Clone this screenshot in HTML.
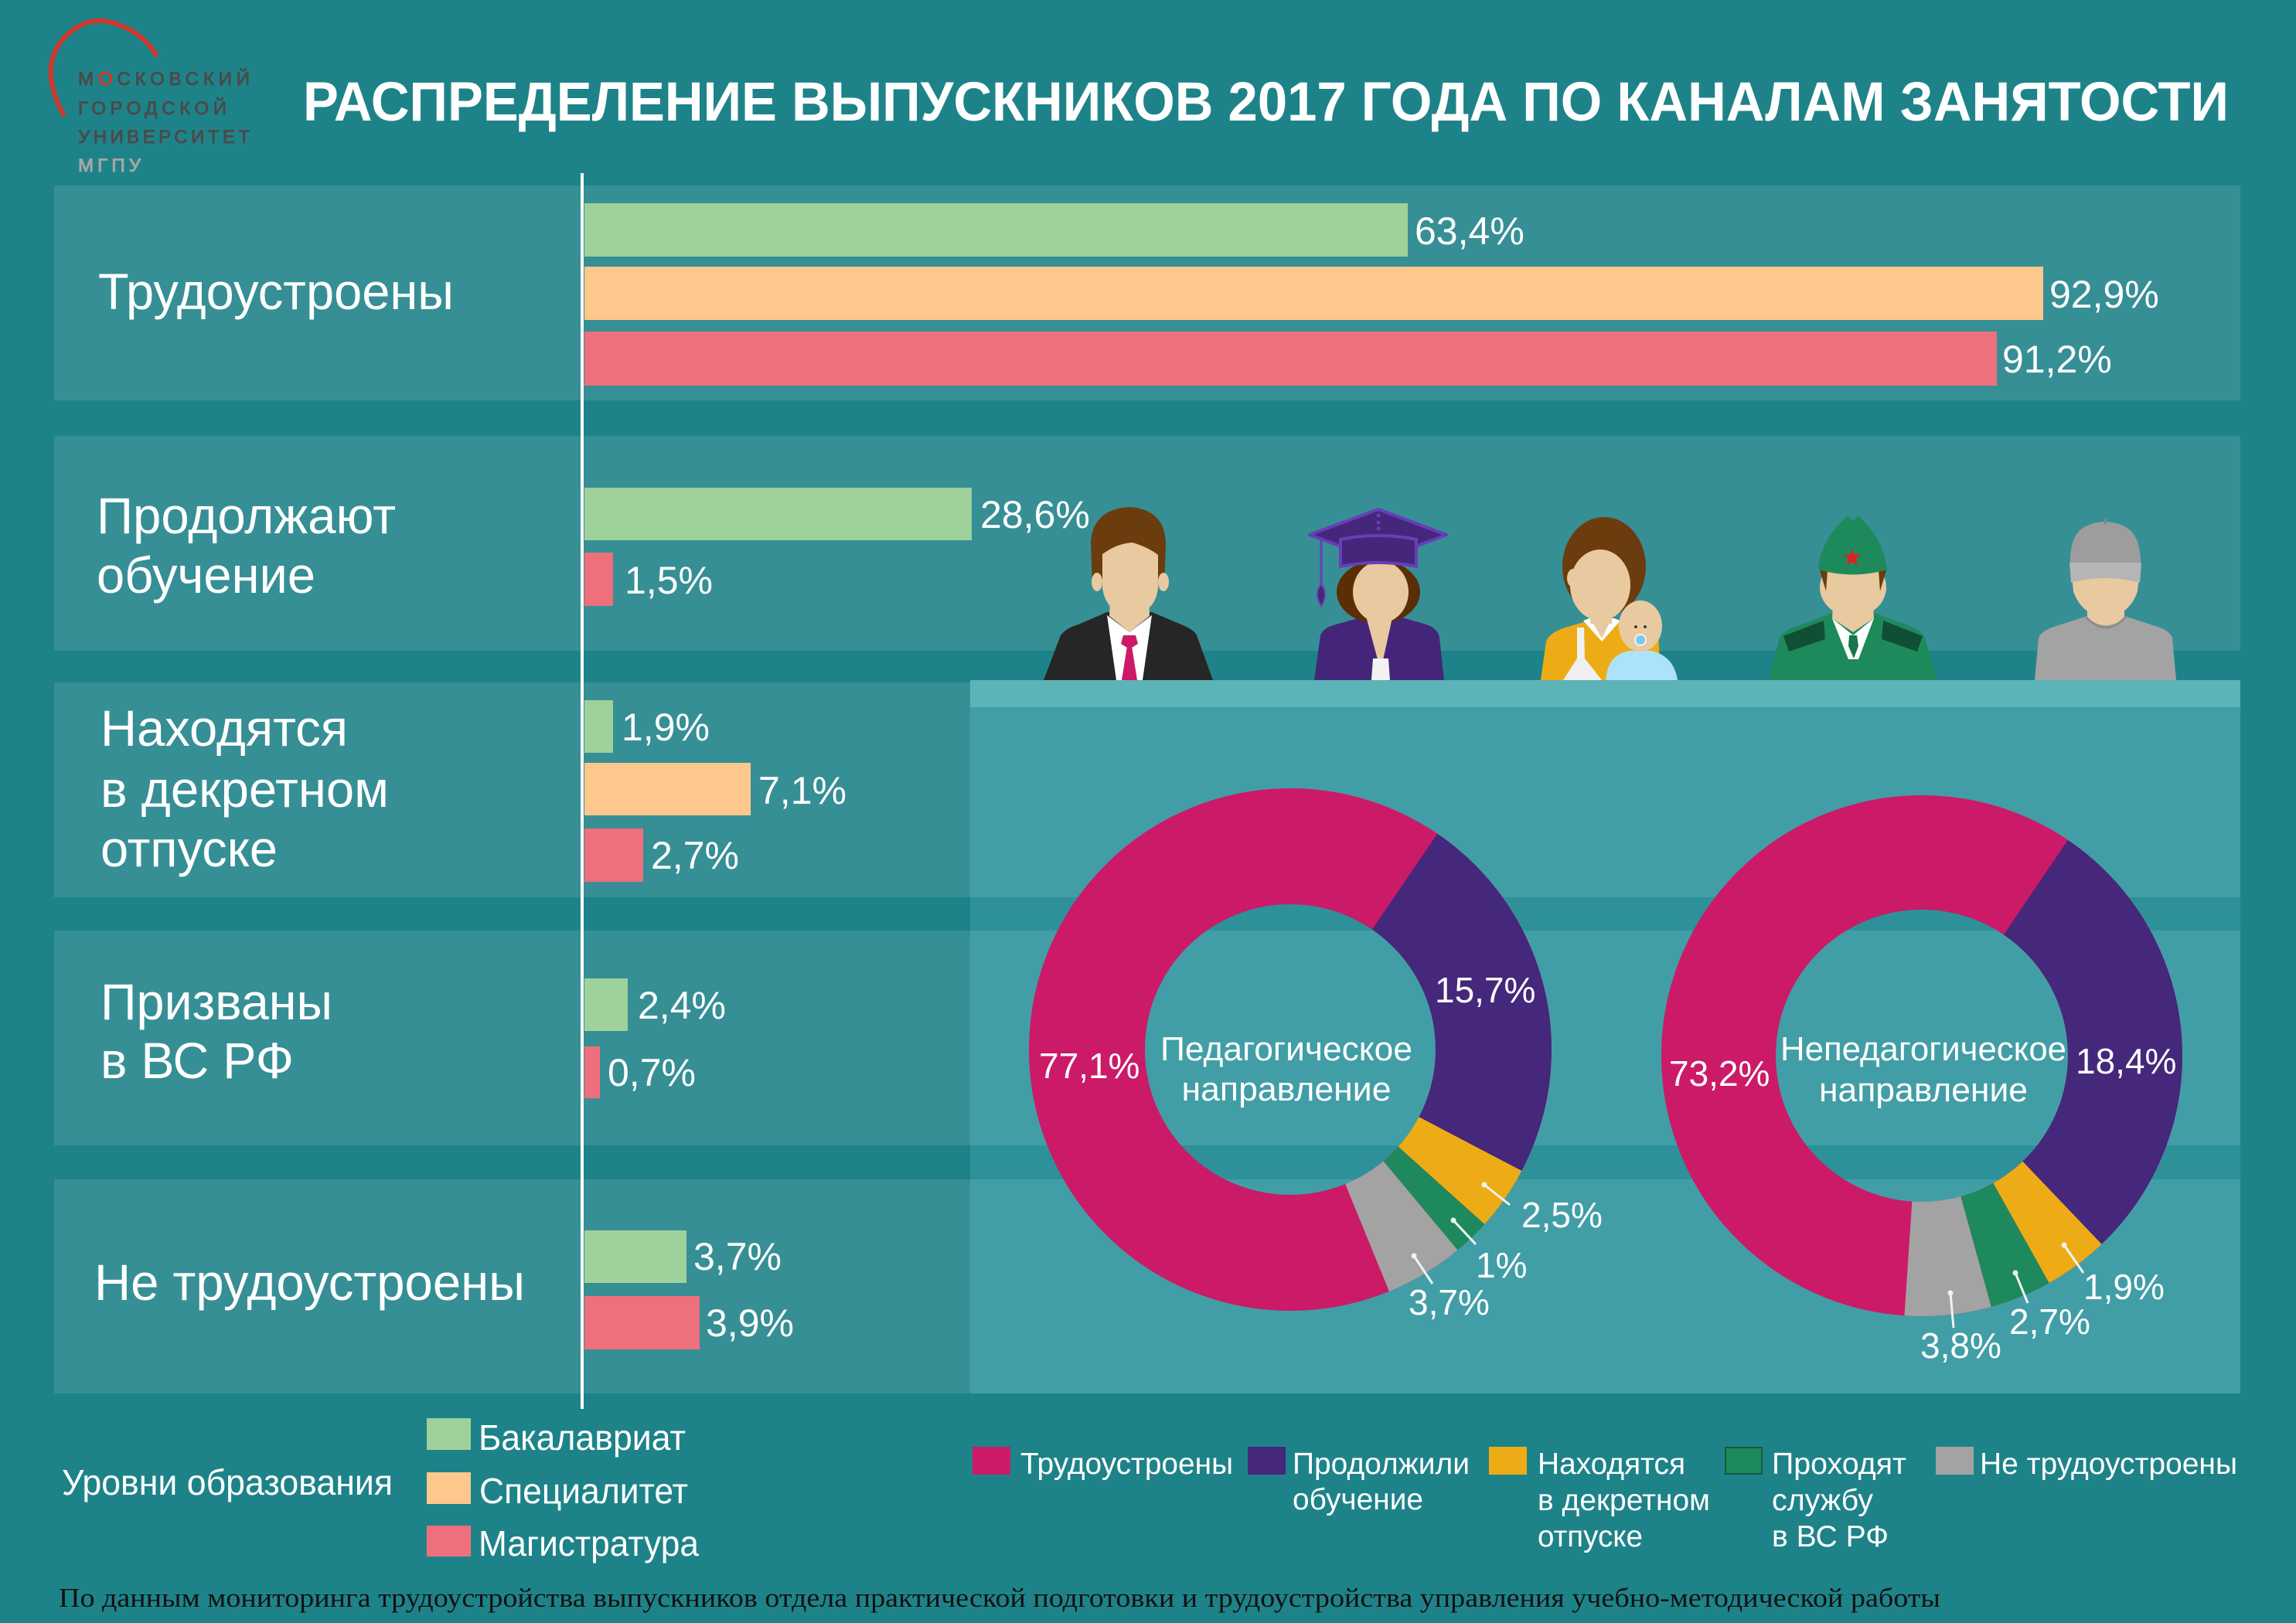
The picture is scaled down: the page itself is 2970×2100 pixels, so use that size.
<!DOCTYPE html>
<html><head><meta charset="utf-8">
<style>html,body{margin:0;padding:0;background:#1e8389}svg{display:block}</style>
</head><body>
<svg width="2970" height="2100" viewBox="0 0 2970 2100" xmlns="http://www.w3.org/2000/svg">
<rect x="0" y="0" width="2970" height="2100" fill="#1e8389"/>

<!-- Logo -->
<path d="M83,150 Q50,90 80,52 Q105,24 135,27 Q182,36 203,73" fill="none" stroke="#d2372d" stroke-width="6"/>
<g font-family="'Liberation Sans', sans-serif" font-size="24" fill="#4b4b4b" stroke="#4b4b4b" stroke-width="1">
<text x="101" y="110" textLength="222" lengthAdjust="spacing">М<tspan fill="#d2372d" stroke="#d2372d">О</tspan>СКОВСКИЙ</text>
<text x="101" y="148" textLength="192" lengthAdjust="spacing">ГОРОДСКОЙ</text>
<text x="101" y="185" textLength="222" lengthAdjust="spacing">УНИВЕРСИТЕТ</text>
<text x="101" y="222" textLength="81" lengthAdjust="spacing" fill="#a6a6a6" stroke="#a6a6a6">МГПУ</text>
</g>

<!-- Title -->
<text x="392" y="156" font-family="'Liberation Sans', sans-serif" font-weight="bold" font-size="71" fill="#ffffff" textLength="2491" lengthAdjust="spacingAndGlyphs">РАСПРЕДЕЛЕНИЕ ВЫПУСКНИКОВ 2017 ГОДА ПО КАНАЛАМ ЗАНЯТОСТИ</text>

<!-- Row panels -->
<g fill="#368f95">
<rect x="70" y="240" width="2828" height="278"/>
<rect x="70" y="564" width="2828" height="278"/>
<rect x="70" y="883" width="2828" height="278"/>
<rect x="70" y="1204" width="2828" height="278"/>
<rect x="70" y="1526" width="2828" height="277"/>
</g>

<!-- Donut panel -->
<rect x="1255" y="880" width="1643" height="923" fill="#429ea6"/>
<rect x="1255" y="1161" width="1643" height="43" fill="#2e9199"/>
<rect x="1255" y="1482" width="1643" height="44" fill="#2e9199"/>

<!-- People -->
<!-- Man -->
<path d="M1350,880 L1372,822 Q1380,812 1395,808 L1432,792 L1490,792 L1528,808 Q1545,815 1548,822 L1569,880 Z" fill="#262626"/>
<path d="M1432,796 L1461,818 L1490,796 L1478,880 L1444,880 Z" fill="#ffffff"/>
<path d="M1437,755 L1485,755 L1487,797 L1461,818 L1435,797 Z" fill="#e9c9a0"/>
<path d="M1453,822 L1469,822 L1472,833 L1464,838 L1458,838 L1450,833 Z" fill="#cc1a68"/>
<path d="M1458,836 L1464,836 L1471,880 L1451,880 Z" fill="#cc1a68"/>
<path d="M1413,757 L1411,700 Q1415,658 1462,656 Q1508,660 1508,705 L1506,757 Z" fill="#6b3c0e"/>
<ellipse cx="1419" cy="753" rx="7" ry="12" fill="#e9c9a0"/>
<ellipse cx="1505" cy="753" rx="7" ry="12" fill="#e9c9a0"/>
<path d="M1426,717 Q1445,703 1465,702 Q1485,708 1498,718 L1498,760 Q1495,792 1462,798 Q1430,792 1426,760 Z" fill="#e9c9a0"/>

<!-- Graduate woman -->
<path d="M1700,880 L1708,822 Q1712,812 1728,808 L1775,795 L1800,795 L1845,808 Q1860,813 1862,825 L1868,880 Z" fill="#45257a"/>
<ellipse cx="1783" cy="766" rx="54" ry="41" fill="#5c2e06"/>
<path d="M1765,790 L1803,790 L1786,868 Z" fill="#e9c9a0"/>
<path d="M1776,852 L1796,852 L1798,880 L1774,880 Z" fill="#f2f2f2"/>
<ellipse cx="1786" cy="766" rx="36" ry="40" fill="#e9c9a0"/>
<polygon points="1694,692 1783,659 1871,692 1783,725" fill="#44277a" stroke="#6a3db8" stroke-width="4" stroke-linejoin="round"/>
<path d="M1734,698 Q1783,688 1832,698 L1832,733 Q1783,723 1734,733 Z" fill="#44277a" stroke="#6a3db8" stroke-width="4"/>
<circle cx="1783" cy="667" r="2.5" fill="#6a3db8"/>
<circle cx="1783" cy="676" r="2.5" fill="#6a3db8"/>
<circle cx="1783" cy="684" r="2.5" fill="#6a3db8"/>
<line x1="1709" y1="695" x2="1709" y2="760" stroke="#6a3db8" stroke-width="3"/>
<path d="M1709,756 Q1719,768 1709,784 Q1699,768 1709,756 Z" fill="#44277a" stroke="#6a3db8" stroke-width="2"/>

<!-- Mother -->
<ellipse cx="2075" cy="733" rx="54" ry="64" fill="#6b3c0e"/>
<path d="M1993,880 L2000,830 Q2005,818 2025,812 L2055,803 L2110,803 L2145,815 L2148,880 Z" fill="#edac16"/>
<path d="M2048,803 L2072,830 L2096,803 L2088,800 L2056,800 Z" fill="#ffffff"/>
<path d="M2040,812 L2049,812 L2050,852 L2072,880 L2022,880 L2040,852 Z" fill="#f0f0f0"/>
<rect x="2057" y="785" width="28" height="22" fill="#e9c9a0"/>
<path d="M2057,800 L2085,800 L2072,826 Z" fill="#e9c9a0"/>
<ellipse cx="2035" cy="748" rx="8" ry="12" fill="#e9c9a0"/>
<ellipse cx="2070" cy="757" rx="39" ry="46" fill="#e9c9a0"/>
<path d="M2077,880 Q2080,845 2110,842 L2135,842 Q2165,848 2170,880 Z" fill="#ade3fa"/>
<ellipse cx="2122" cy="810" rx="28" ry="33" fill="#e9c9a0"/>
<circle cx="2116" cy="811" r="1.8" fill="#222"/>
<circle cx="2128" cy="811" r="1.8" fill="#222"/>
<circle cx="2122" cy="828" r="7" fill="#7cc8ea" stroke="#f4f4f4" stroke-width="2"/>

<!-- Soldier -->
<path d="M2288,880 L2302,825 Q2308,815 2325,810 L2370,793 L2425,793 L2470,810 Q2485,815 2490,825 L2506,880 Z" fill="#1e8a5c"/>
<polygon points="2307,823 2359,803 2361,827 2314,843" fill="#0f4f35"/>
<polygon points="2436,803 2487,823 2480,843 2434,827" fill="#0f4f35"/>
<polygon points="2370,800 2397,822 2424,800 2404,853 2391,853" fill="#ffffff"/>
<polygon points="2392,822 2402,822 2404,836 2398,852 2391,836" fill="#16764a"/>
<path d="M2372,768 L2422,768 L2424,800 L2397,818 L2370,800 Z" fill="#e9c9a0"/>
<ellipse cx="2397" cy="760" rx="43" ry="38" fill="#e9c9a0"/>
<path d="M2354,738 L2364,738 L2362,765 Z" fill="#6b3c0e"/>
<path d="M2440,738 L2430,738 L2432,765 Z" fill="#6b3c0e"/>
<path d="M2352,737 Q2355,700 2385,672 L2390,667 L2397,674 L2404,667 Q2438,700 2441,737 Q2397,750 2352,737 Z" fill="#1e8a5c"/>
<polygon points="2396,710 2398.9,718 2407.4,718.3 2400.8,723.5 2403.1,731.7 2396,727 2388.9,731.7 2391.2,723.5 2384.6,718.3 2393.1,718" fill="#e31e24"/>

<!-- Unemployed -->
<path d="M2632,880 L2637,825 Q2642,815 2660,810 L2700,797 L2748,797 L2788,810 Q2806,815 2810,825 L2815,880 Z" fill="#a3a3a3"/>
<path d="M2700,775 L2748,775 L2748,800 Q2724,818 2700,800 Z" fill="#e9c9a0"/>
<path d="M2698,798 Q2724,826 2750,798" fill="none" stroke="#8c8c8c" stroke-width="3"/>
<path d="M2680,745 L2767,745 L2765,765 Q2755,795 2724,800 Q2692,795 2682,765 Z" fill="#e9c9a0"/>
<path d="M2678,732 Q2676,690 2700,680 Q2723,670 2746,680 Q2770,690 2769,732 Z" fill="#9d9d9d"/>
<path d="M2677,728 L2770,728 L2768,754 Q2723,742 2679,754 Z" fill="#b5b5b5"/>
<rect x="2722" y="671" width="3" height="8" fill="#888"/>

<!-- Strip -->
<rect x="1255" y="880" width="1643" height="35" fill="#5cb3b8"/>

<!-- Axis line -->
<rect x="751" y="224" width="4" height="1599" fill="#ffffff"/>

<!-- Bars -->
<g>
<rect x="756" y="263" width="1065" height="69" fill="#9fd19b"/>
<rect x="756" y="345" width="1887" height="69" fill="#fec78b"/>
<rect x="756" y="429" width="1827" height="70" fill="#ee707c"/>
<rect x="756" y="631" width="501" height="68" fill="#9fd19b"/>
<rect x="756" y="715" width="37" height="69" fill="#ee707c"/>
<rect x="756" y="906" width="37" height="68" fill="#9fd19b"/>
<rect x="756" y="987" width="215" height="68" fill="#fec78b"/>
<rect x="756" y="1072" width="76" height="69" fill="#ee707c"/>
<rect x="756" y="1266" width="56" height="68" fill="#9fd19b"/>
<rect x="756" y="1354" width="20" height="67" fill="#ee707c"/>
<rect x="756" y="1592" width="132" height="68" fill="#9fd19b"/>
<rect x="756" y="1677" width="149" height="69" fill="#ee707c"/>
</g>

<!-- Row labels -->
<g font-family="'Liberation Sans', sans-serif" font-size="66" fill="#ffffff">
<text x="127" y="400" textLength="460" lengthAdjust="spacingAndGlyphs">Трудоустроены</text>
<text x="125" y="690" textLength="387" lengthAdjust="spacingAndGlyphs">Продолжают</text>
<text x="125" y="767" textLength="283" lengthAdjust="spacingAndGlyphs">обучение</text>
<text x="130" y="965" textLength="320" lengthAdjust="spacingAndGlyphs">Находятся</text>
<text x="130" y="1044" textLength="373" lengthAdjust="spacingAndGlyphs">в декретном</text>
<text x="130" y="1121" textLength="229" lengthAdjust="spacingAndGlyphs">отпуске</text>
<text x="130" y="1319" textLength="300" lengthAdjust="spacingAndGlyphs">Призваны</text>
<text x="130" y="1395" textLength="250" lengthAdjust="spacingAndGlyphs">в ВС РФ</text>
<text x="122" y="1682" textLength="557" lengthAdjust="spacingAndGlyphs">Не трудоустроены</text>
</g>

<!-- Bar labels -->
<g font-family="'Liberation Sans', sans-serif" font-size="50" fill="#ffffff">
<text x="1830" y="316">63,4%</text>
<text x="2651" y="398">92,9%</text>
<text x="2590" y="482">91,2%</text>
<text x="1268" y="683">28,6%</text>
<text x="808" y="768">1,5%</text>
<text x="804" y="958">1,9%</text>
<text x="981" y="1040">7,1%</text>
<text x="842" y="1124">2,7%</text>
<text x="825" y="1318">2,4%</text>
<text x="786" y="1405">0,7%</text>
<text x="897" y="1643">3,7%</text>
<text x="913" y="1729">3,9%</text>
</g>

<!-- Left donut -->
<g fill="none" stroke-width="150">
<circle cx="1669" cy="1358" r="263" stroke="#cb1a68"/>
<g transform="rotate(-90 1669 1358)">
<circle cx="1669" cy="1358" r="263" pathLength="360" stroke="#45277b" stroke-dasharray="83.4 276.6" stroke-dashoffset="-34.3"/>
<circle cx="1669" cy="1358" r="263" pathLength="360" stroke="#edac16" stroke-dasharray="14.3 345.7" stroke-dashoffset="-117.7"/>
<circle cx="1669" cy="1358" r="263" pathLength="360" stroke="#1e895c" stroke-dasharray="8.2 351.8" stroke-dashoffset="-132"/>
<circle cx="1669" cy="1358" r="263" pathLength="360" stroke="#a3a3a3" stroke-dasharray="17.6 342.4" stroke-dashoffset="-140.2"/>
</g>
</g>

<!-- Right donut -->
<g fill="none" stroke-width="148">
<circle cx="2486" cy="1366" r="263" stroke="#cb1a68"/>
<g transform="rotate(-90 2486 1366)">
<circle cx="2486" cy="1366" r="263" pathLength="360" stroke="#45277b" stroke-dasharray="102.3 257.7" stroke-dashoffset="-34.1"/>
<circle cx="2486" cy="1366" r="263" pathLength="360" stroke="#edac16" stroke-dasharray="14.4 345.6" stroke-dashoffset="-136.4"/>
<circle cx="2486" cy="1366" r="263" pathLength="360" stroke="#1e895c" stroke-dasharray="13.8 346.2" stroke-dashoffset="-150.8"/>
<circle cx="2486" cy="1366" r="263" pathLength="360" stroke="#a3a3a3" stroke-dasharray="19.3 340.7" stroke-dashoffset="-164.6"/>
</g>
</g>

<!-- Leader lines -->
<g stroke="#f2f2f2" stroke-width="3" fill="#f2f2f2">
<line x1="1920" y1="1533" x2="1953" y2="1559"/><circle cx="1920" cy="1533" r="3.5" stroke="none"/>
<line x1="1880" y1="1579" x2="1909" y2="1610"/><circle cx="1880" cy="1579" r="3.5" stroke="none"/>
<line x1="1829" y1="1625" x2="1853" y2="1661"/><circle cx="1829" cy="1625" r="3.5" stroke="none"/>
<line x1="2670" y1="1611" x2="2695" y2="1647"/><circle cx="2670" cy="1611" r="3.5" stroke="none"/>
<line x1="2607" y1="1647" x2="2623" y2="1686"/><circle cx="2607" cy="1647" r="3.5" stroke="none"/>
<line x1="2523" y1="1673" x2="2527" y2="1718"/><circle cx="2523" cy="1673" r="3.5" stroke="none"/>
</g>

<!-- Donut labels -->
<g font-family="'Liberation Sans', sans-serif" font-size="46" fill="#ffffff">
<text x="1344" y="1395">77,1%</text>
<text x="1856" y="1297">15,7%</text>
<text x="1968" y="1588">2,5%</text>
<text x="1909" y="1653">1%</text>
<text x="1822" y="1701">3,7%</text>
<text x="2159" y="1405">73,2%</text>
<text x="2685" y="1389">18,4%</text>
<text x="2695" y="1681">1,9%</text>
<text x="2599" y="1726">2,7%</text>
<text x="2484" y="1757">3,8%</text>
</g>
<g font-family="'Liberation Sans', sans-serif" font-size="44" fill="#ffffff" text-anchor="middle">
<text x="1664" y="1372" textLength="326" lengthAdjust="spacingAndGlyphs">Педагогическое</text>
<text x="1664" y="1424" textLength="271" lengthAdjust="spacingAndGlyphs">направление</text>
<text x="2488" y="1372" textLength="370" lengthAdjust="spacingAndGlyphs">Непедагогическое</text>
<text x="2488" y="1425" textLength="270" lengthAdjust="spacingAndGlyphs">направление</text>
</g>

<!-- Legend 1 -->
<rect x="552" y="1835" width="57" height="41" fill="#9fd19b"/>
<rect x="552" y="1905" width="57" height="41" fill="#fec78b"/>
<rect x="552" y="1974" width="57" height="40" fill="#ee707c"/>
<g font-family="'Liberation Sans', sans-serif" font-size="46" fill="#ffffff">
<text x="80" y="1934" textLength="428" lengthAdjust="spacingAndGlyphs">Уровни образования</text>
<text x="619" y="1876" textLength="268" lengthAdjust="spacingAndGlyphs">Бакалавриат</text>
<text x="620" y="1945" textLength="270" lengthAdjust="spacingAndGlyphs">Специалитет</text>
<text x="619" y="2013" textLength="285" lengthAdjust="spacingAndGlyphs">Магистратура</text>
</g>

<!-- Legend 2 -->
<rect x="1258" y="1872" width="49" height="36" fill="#cb1a68"/>
<rect x="1614" y="1872" width="49" height="36" fill="#45277b"/>
<rect x="1926" y="1872" width="49" height="36" fill="#edac16"/>
<rect x="2232" y="1873" width="47" height="34" fill="#1e895c" stroke="#0f5e3c" stroke-width="2"/>
<rect x="2504" y="1872" width="49" height="36" fill="#a3a3a3"/>
<g font-family="'Liberation Sans', sans-serif" font-size="39" fill="#ffffff">
<text x="1320" y="1907" textLength="275" lengthAdjust="spacingAndGlyphs">Трудоустроены</text>
<text x="1672" y="1907" textLength="229" lengthAdjust="spacingAndGlyphs">Продолжили</text>
<text x="1672" y="1953" textLength="169" lengthAdjust="spacingAndGlyphs">обучение</text>
<text x="1989" y="1907" textLength="191" lengthAdjust="spacingAndGlyphs">Находятся</text>
<text x="1989" y="1954" textLength="223" lengthAdjust="spacingAndGlyphs">в декретном</text>
<text x="1989" y="2001" textLength="136" lengthAdjust="spacingAndGlyphs">отпуске</text>
<text x="2292" y="1907" textLength="174" lengthAdjust="spacingAndGlyphs">Проходят</text>
<text x="2292" y="1954" textLength="131" lengthAdjust="spacingAndGlyphs">службу</text>
<text x="2292" y="2001" textLength="151" lengthAdjust="spacingAndGlyphs">в ВС РФ</text>
<text x="2561" y="1907" textLength="333" lengthAdjust="spacingAndGlyphs">Не трудоустроены</text>
</g>

<!-- Footer -->
<text x="76" y="2079" font-family="'Liberation Serif', serif" font-size="35" fill="#111111" textLength="2434" lengthAdjust="spacingAndGlyphs">По данным мониторинга трудоустройства выпускников отдела практической подготовки и трудоустройства управления учебно-методической работы</text>
</svg>
</body></html>
